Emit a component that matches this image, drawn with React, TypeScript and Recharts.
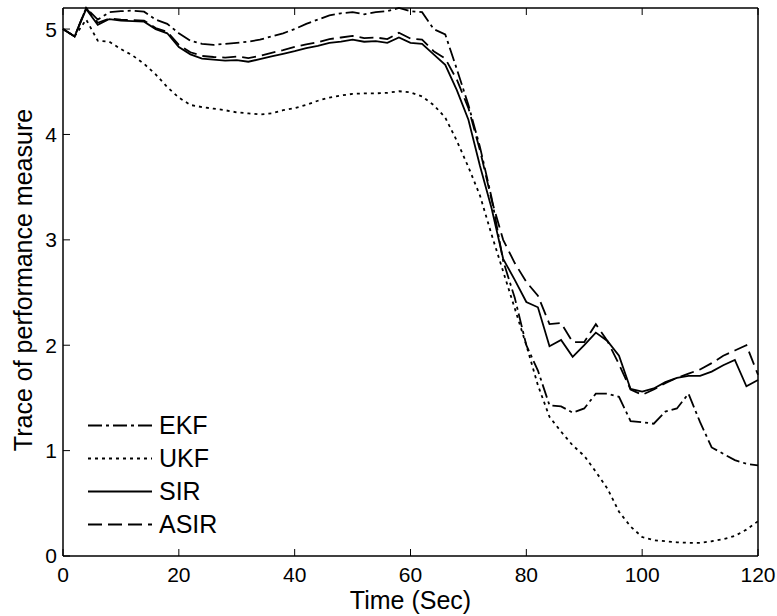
import React from 'react';
import { LineChart, Line, XAxis, YAxis } from 'recharts';

// time axis, every 2 s
const time = [
  0, 2, 4, 6, 8, 10, 12, 14, 16, 18, 20, 22, 24, 26, 28, 30, 32, 34, 36, 38, 40,
  42, 44, 46, 48, 50, 52, 54, 56, 58, 60, 62, 64, 66, 68, 70, 72, 74, 76, 78, 80,
  82, 84, 86, 88, 90, 92, 94, 96, 98, 100, 102, 104, 106, 108, 110, 112, 114, 116, 118, 120,
];

const ekf = [
  5.0, 4.93, 5.2, 5.09, 5.16, 5.17, 5.175, 5.165, 5.09, 5.05, 4.96,
  4.89, 4.86, 4.85, 4.86, 4.87, 4.88, 4.9, 4.93, 4.96, 5.0,
  5.05, 5.09, 5.13, 5.15, 5.16, 5.14, 5.16, 5.17, 5.2, 5.17,
  5.16, 5.0, 4.95, 4.62, 4.28, 3.88, 3.4, 2.8, 2.45, 2.0,
  1.76, 1.43, 1.42, 1.36, 1.4, 1.54, 1.54, 1.51, 1.28, 1.27,
  1.255, 1.37, 1.4, 1.54, 1.27, 1.03, 0.97, 0.91, 0.875, 0.86,
];

const ukf = [
  5.0, 4.93, 5.09, 4.89, 4.88, 4.81, 4.75, 4.67, 4.57, 4.45, 4.35,
  4.28, 4.26, 4.245, 4.23, 4.21, 4.2, 4.19, 4.2, 4.23, 4.25,
  4.28, 4.32, 4.35, 4.37, 4.385, 4.39, 4.39, 4.395, 4.41, 4.4,
  4.36, 4.28, 4.16, 3.94, 3.69, 3.42, 3.05, 2.7, 2.35, 2.0,
  1.62, 1.32, 1.18, 1.05, 0.95, 0.8, 0.64, 0.42, 0.28, 0.18,
  0.15, 0.14, 0.13, 0.125, 0.125, 0.14, 0.16, 0.19, 0.25, 0.33,
];

const sir = [
  5.0, 4.93, 5.19, 5.04, 5.095, 5.08, 5.075, 5.07, 5.0, 4.96, 4.83,
  4.76, 4.72, 4.71, 4.7, 4.705, 4.69, 4.715, 4.74, 4.765, 4.79,
  4.82, 4.84, 4.87, 4.88, 4.9, 4.88, 4.885, 4.87, 4.92, 4.87,
  4.86, 4.76, 4.66, 4.42, 4.14, 3.7, 3.3, 2.82, 2.62, 2.41,
  2.36, 1.99, 2.05, 1.89, 2.0, 2.12, 2.04, 1.9, 1.585, 1.56,
  1.59, 1.65, 1.69, 1.71, 1.71, 1.75, 1.81, 1.86, 1.61, 1.67,
];

const asir = [
  5.0, 4.93, 5.2, 5.06, 5.1, 5.09, 5.085, 5.08, 5.01, 4.975, 4.85,
  4.78, 4.745, 4.735, 4.73, 4.74, 4.725, 4.745, 4.775, 4.8, 4.83,
  4.855, 4.875, 4.905, 4.92, 4.935, 4.915, 4.92, 4.905, 4.965, 4.91,
  4.9, 4.79, 4.72, 4.52, 4.25, 3.85, 3.38, 3.0, 2.78, 2.6,
  2.47, 2.2, 2.21, 2.03, 2.03, 2.2, 2.04, 1.82, 1.58, 1.53,
  1.58, 1.64, 1.69, 1.73, 1.77, 1.83, 1.9, 1.95, 2.0, 1.72,
];

const xTicks = [0, 20, 40, 60, 80, 100, 120];
const yTicks = [0, 1, 2, 3, 4, 5];

const series = [
  { key: 'EKF', values: ekf, dash: '14 4 3 4' },
  { key: 'UKF', values: ukf, dash: '3 4' },
  { key: 'SIR', values: sir, dash: undefined },
  { key: 'ASIR', values: asir, dash: '14 6' },
];

const data = time.map((t, i) => {
  const row: any = { t };
  series.forEach((s) => (row[s.key] = s.values[i]));
  return row;
});

const FONT = '"Liberation Sans", Arial, Helvetica, sans-serif';
const LW = 1.8;

const YLabel: React.FC<any> = ({ viewBox }) => {
  const cx = viewBox.x + 32;
  const cy = viewBox.y + viewBox.height / 2 - 2;
  return (
    <text x={cx} y={cy} transform={`rotate(-90 ${cx} ${cy})`} textAnchor="middle" fontSize={25} fill="#000">
      Trace of performance measure
    </text>
  );
};

// top/right box axes: tick marks only, no labels
const NoLabel = () => <g />;

const LegendBox = () => (
  <div style={{ position: 'absolute', left: 88, top: 409, fontFamily: FONT, fontSize: 25, color: '#000' }}>
    {series.map((s) => (
      <div key={s.key} style={{ display: 'flex', alignItems: 'center', height: 33, lineHeight: '33px' }}>
        <svg width={64} height={33} style={{ display: 'block' }}>
          <line x1={0} x2={64} y1={16.5} y2={16.5} stroke="#000" strokeWidth={LW} strokeDasharray={s.dash} />
        </svg>
        <span style={{ marginLeft: 7 }}>{s.key}</span>
      </div>
    ))}
  </div>
);

export default function App() {
  const axisLine = { stroke: '#000', strokeWidth: 1.5 };
  const tickLine = { stroke: '#000', strokeWidth: 1 };
  return (
    <div style={{ position: 'absolute', left: 0, top: 0, width: 777, height: 616, background: '#fff', fontFamily: FONT }}>
      <LineChart width={777} height={616} data={data} margin={{ top: 7, right: 18, left: 0, bottom: 0 }}>
        <XAxis
          xAxisId="b"
          dataKey="t"
          type="number"
          domain={[0, 120]}
          ticks={xTicks}
          interval={0}
          height={60}
          tickSize={-7}
          tickMargin={18}
          axisLine={axisLine}
          tickLine={tickLine}
          tick={{ fill: '#000', fontSize: 21 }}
          label={{ value: 'Time (Sec)', position: 'insideBottom', offset: 7, fill: '#000', fontSize: 25 }}
        />
        <XAxis
          xAxisId="t"
          dataKey="t"
          type="number"
          orientation="top"
          domain={[0, 120]}
          ticks={xTicks}
          interval={0}
          height={1}
          tickSize={-7}
          axisLine={axisLine}
          tickLine={tickLine}
          tick={<NoLabel />}
        />
        <YAxis
          yAxisId="l"
          type="number"
          domain={[0, 5.2]}
          ticks={yTicks}
          interval={0}
          width={63}
          tickSize={-7}
          tickMargin={13}
          axisLine={axisLine}
          tickLine={tickLine}
          tick={{ fill: '#000', fontSize: 21 }}
          label={<YLabel />}
        />
        <YAxis
          yAxisId="r"
          type="number"
          orientation="right"
          domain={[0, 5.2]}
          ticks={yTicks}
          interval={0}
          width={1}
          tickSize={-7}
          axisLine={axisLine}
          tickLine={tickLine}
          tick={<NoLabel />}
        />
        {series.map((s) => (
          <Line
            key={s.key}
            xAxisId="b"
            yAxisId="l"
            type="linear"
            dataKey={s.key}
            stroke="#000"
            strokeWidth={LW}
            strokeDasharray={s.dash}
            dot={false}
            activeDot={false}
            isAnimationActive={false}
          />
        ))}
      </LineChart>
      <LegendBox />
    </div>
  );
}
